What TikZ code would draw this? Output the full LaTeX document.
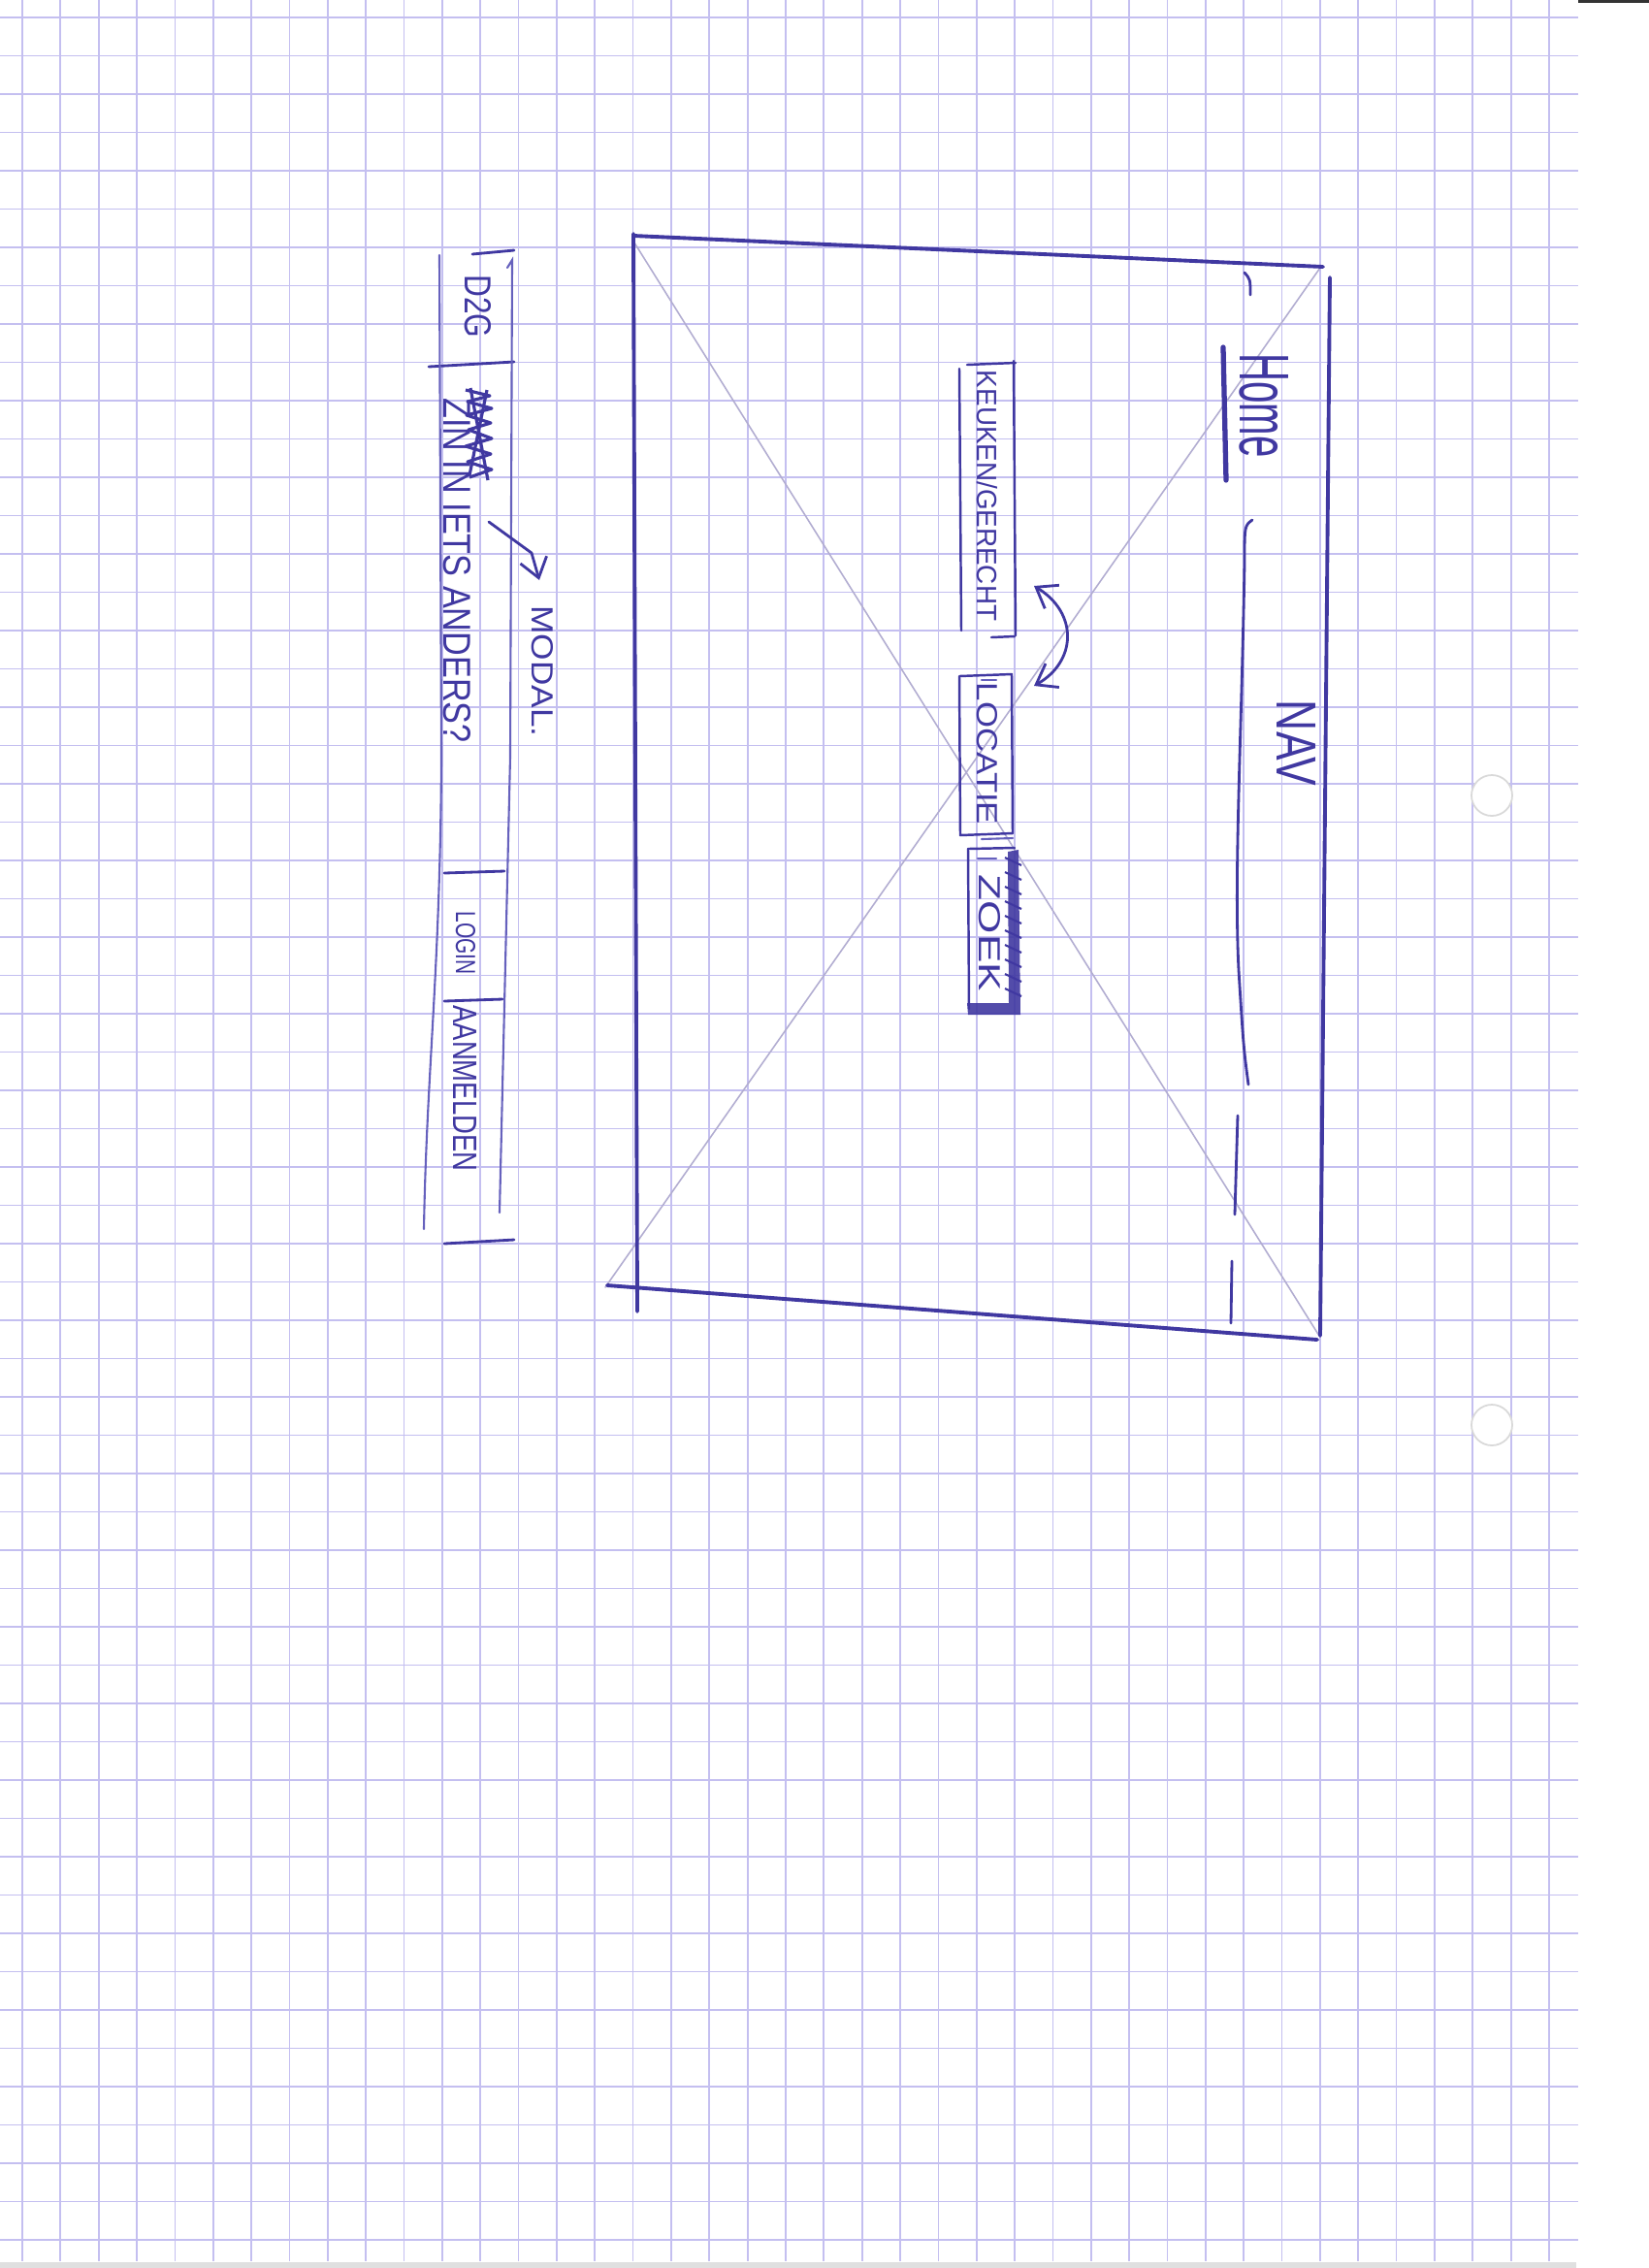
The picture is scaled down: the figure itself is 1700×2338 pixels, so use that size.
\documentclass[tikz,border=0pt]{standalone}
\usepackage{fontspec}
\setmainfont{Liberation Sans}
\usepackage{graphicx}
\usetikzlibrary{arrows.meta,calc}
\usepackage{tkz-euclide}
\definecolor{InkClr}{rgb}{0.25,0.22,0.63}
\definecolor{PaleInkClr}{rgb}{0.40,0.38,0.74}
\definecolor{FaintClr}{rgb}{0.70,0.68,0.82}
\definecolor{GridClr}{rgb}{0.77,0.75,0.94}
\newcommand{\HandTxt}[3]{\resizebox{#1}{#2}{#3}}

\begin{document}
\begin{tikzpicture}[x=0.01cm,y=-0.01cm,
  hand/.style={inner sep=0pt,text=InkClr,rotate=-90},
  ink/.style={line width=0.8pt,color=InkClr,line cap=round,line join=round},
  pale/.style={line width=0.6pt,color=PaleInkClr,line cap=round},
  barb/.style={-{Straight Barb[length=5.5pt,width=8pt]}}]
\useasboundingbox (0,0) rectangle (1700,2338);
\tkzSetUpLine[line width=1pt,color=InkClr]

% squared paper
\foreach \i in {0,...,40}
  \draw[GridClr,line width=0.5pt] ({23+39.35*\i},0) -- ({23+39.35*\i},2331);
\foreach \j in {0,...,58}
  \draw[GridClr,line width=0.5pt] (0,{18+39.5*\j}) -- (1627,{18+39.5*\j});
\fill[black!12] (0,2332) rectangle (1625,2338);
\fill[black!80] (1627,0) rectangle (1700,3);
\foreach \h in {820,1469}{
  \fill[white] (1538,\h) circle[radius=0.21cm];
  \draw[black!15,line width=0.5pt] (1538,\h) circle[radius=0.21cm];
}

% page frame with the image cross
\tkzDefPoint(653,241){LT} \tkzDefPoint(657,1352){LB}
\tkzDefPoint(653,243){TL} \tkzDefPoint(1364,275){TR}
\tkzDefPoint(1371,286){RT} \tkzDefPoint(1361,1377){RB}
\tkzDefPoint(626,1325){BL} \tkzDefPoint(1358,1381){BR}
\tkzDefPoint(652,247){XA} \tkzDefPoint(1360,1377){XB}
\tkzDefPoint(1361,276){XC} \tkzDefPoint(624,1327){XD}

\tkzDrawSegments[line width=0.45pt,color=FaintClr](XA,XB XC,XD)
\tkzDrawSegments[line width=1.1pt,color=InkClr](LT,LB TL,TR RT,RB BL,BR)

% nav bar
\tkzDefPoint(1261,358){U1} \tkzDefPoint(1264,495){U2}
\tkzDrawSegments[line width=1.5pt,color=InkClr](U1,U2)
\draw[ink] (1283,281) .. controls (1289,288) .. (1289,304);
\draw[ink] (1291,536) .. controls (1283,542) .. (1283,580)
  .. controls (1280,760) and (1272,900) .. (1277,1000)
  .. controls (1282,1080) .. (1287,1118);
\draw[ink] (1276,1150) -- (1273,1252);
\draw[ink] (1270,1300) -- (1269,1364);

\node[hand] (home) at (1303,418) {\HandTxt{1.07cm}{0.50cm}{Home}};
\node[hand] (nav) at (1337,766) {\HandTxt{0.88cm}{0.40cm}{NAV}};

% search bar
\tkzDefPoint(997,376){K1} \tkzDefPoint(1047,374){K2}
\tkzDefPoint(989,380){K3} \tkzDefPoint(991,650){K4}
\tkzDefPoint(1045,372){K5} \tkzDefPoint(1047,655){K6}
\tkzDefPoint(1022,657){K7} \tkzDefPoint(1046,656){K8}
\tkzDrawSegments[line width=0.7pt,color=InkClr](K1,K2 K3,K4 K5,K6 K7,K8)

\tkzDefPoint(989,697){L1} \tkzDefPoint(1043,695){L2}
\tkzDefPoint(1044,859){L3} \tkzDefPoint(990,861){L4}
\tkzDrawPolygon[line width=0.7pt,color=InkClr](L1,L2,L3,L4)
\draw[pale] (1012,701) -- (1027,701);
\draw[pale] (1012,865) -- (1044,864);
\draw[pale] (1008,885) -- (1027,885);

\tkzDefPoint(998,875){Z1} \tkzDefPoint(1046,874){Z2}
\tkzDefPoint(999,1040){Z3}
\tkzDrawSegments[line width=0.7pt,color=InkClr](Z1,Z2 Z1,Z3)
\fill[InkClr,opacity=.9] (1039,878) -- (1050,876) -- (1052,1046) -- (998,1046)
  -- (997,1034) -- (1040,1034) -- cycle;
\foreach \k in {0,...,9}
  \draw[InkClr,line width=0.6pt] (1036,{884+15*\k}) -- (1053,{892+15*\k});

\node[hand] (keuken) at (1018,511) {\HandTxt{2.58cm}{0.21cm}{KEUKEN/GERECHT}};
\node[hand] (locatie) at (1018,777) {\HandTxt{1.46cm}{0.21cm}{LOCATIE}};
\node[hand] (zoek) at (1020,962) {\HandTxt{1.20cm}{0.22cm}{ZOEK}};

\coordinate (swap top) at (1066,604);
\coordinate (swap bot) at (1066,707);
\draw[ink,{Straight Barb[length=5.5pt,width=8pt]}-{Straight Barb[length=5.5pt,width=8pt]}]
  (swap top) .. controls (1112,632) and (1110,682) .. (swap bot);

% side menu
\tkzDefPoint(487,262){S1} \tkzDefPoint(530,258){S2}
\tkzDefPoint(442,378){S3} \tkzDefPoint(530,373){S4}
\tkzDefPoint(458,900){S5} \tkzDefPoint(520,898){S6}
\tkzDefPoint(458,1032){S7} \tkzDefPoint(518,1030){S8}
\tkzDefPoint(458,1282){S9} \tkzDefPoint(530,1278){S10}
\tkzDrawSegments[line width=0.8pt,color=InkClr](S1,S2 S3,S4 S5,S6 S7,S8 S9,S10)
\draw[pale] (453,263) -- (455,780) .. controls (454,1000) and (440,1100) .. (437,1267);
\draw[pale] (523,276) -- (528,268) -- (526,780) -- (515,1250);

\node[hand] (d2g) at (493,316) {\HandTxt{0.65cm}{0.27cm}{D2G}};
\draw[InkClr,line width=0.9pt,line join=round] (480,402) -- (505,408) -- (482,414)
  -- (507,421) -- (481,428) -- (506,436) -- (483,443) -- (507,452) -- (480,460)
  -- (506,468) -- (482,476) -- (507,484) -- (484,492);
\draw[InkClr,line width=0.9pt] (485,400) -- (503,495) (502,402) -- (484,490);
\node[hand] (zin) at (471,588) {\HandTxt{3.55cm}{0.28cm}{ZIN IN IETS ANDERS?}};
\node[hand] (login) at (480,972) {\HandTxt{0.65cm}{0.20cm}{LOGIN}};
\node[hand] (aanmelden) at (480,1122) {\HandTxt{1.71cm}{0.24cm}{AANMELDEN}};

\node[hand] (modal) at (559,692) {\HandTxt{1.35cm}{0.22cm}{MODAL.}};
\coordinate (scribble end) at (504,538);
\coordinate (modal tip) at (556,598);
\draw[ink,barb] (scribble end) -- (548,570) -- (modal tip);

\end{tikzpicture}
\end{document}
